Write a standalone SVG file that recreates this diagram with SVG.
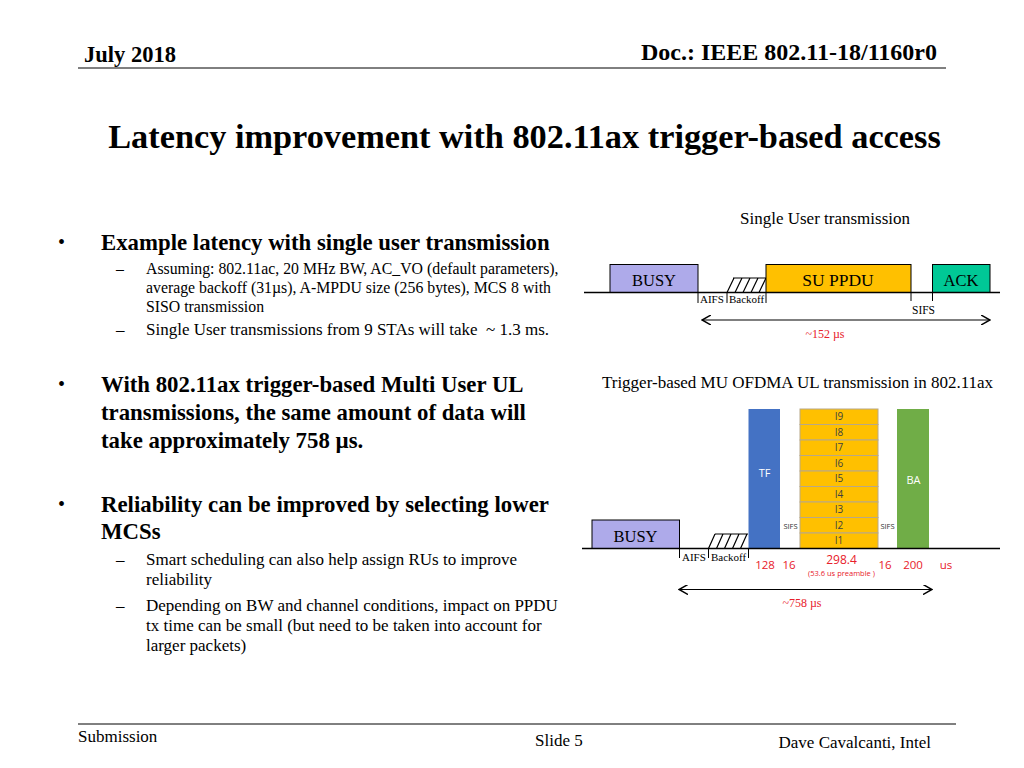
<svg xmlns="http://www.w3.org/2000/svg" width="1024" height="768" viewBox="0 0 1024 768">
<style>
.serif{font-family:"Liberation Serif","Times New Roman",serif;fill:#000}
.b{font-weight:bold}
.sans{font-family:"Open Sans","Liberation Sans",sans-serif}
.red{fill:#e8202a}
.ln{stroke:#000;stroke-width:1.5;fill:none}
.tk{stroke:#000;stroke-width:1;fill:none}
.h{stroke:#000;stroke-width:1.2;fill:none}
.row{fill:#ffc000;stroke:#b8a888;stroke-width:1}
.bt{font-size:22.8px}
.s1{font-size:15.8px}
.s2{font-size:17px}
</style>
<defs>
<marker id="ah" viewBox="0 0 10 10" refX="9" refY="5" markerWidth="10" markerHeight="10" markerUnits="userSpaceOnUse" orient="auto-start-reverse">
<path d="M0,0 L9,5 L0,10" fill="none" stroke="#000" stroke-width="1.5"/>
</marker>
</defs>
<rect width="1024" height="768" fill="#fff"/>

<g id="header">
<text class="serif b" x="84" y="62" font-size="22.5">July 2018</text>
<text class="serif b" x="937" y="60" font-size="24" text-anchor="end">Doc.: IEEE 802.11-18/1160r0</text>
<line x1="78" y1="68" x2="946" y2="68" stroke="#000" stroke-width="1"/>
</g>

<g id="title">
<text class="serif b" x="524.5" y="148" font-size="34.3" text-anchor="middle">Latency improvement with 802.11ax trigger-based access</text>
</g>

<g id="body">
<text class="serif" x="58" y="249" font-size="20">•</text>
<text class="serif b bt" x="101" y="250">Example latency with single user transmission</text>
<text class="serif s1" x="116" y="274">–</text>
<text class="serif s1" x="146" y="274">Assuming: 802.11ac, 20 MHz BW, AC_VO (default parameters),</text>
<text class="serif s1" x="146" y="293">average backoff (31µs), A-MPDU size (256 bytes), MCS 8 with</text>
<text class="serif s1" x="146" y="312">SISO transmission</text>
<text class="serif s2" x="116" y="335">–</text>
<text class="serif s2" x="146" y="335">Single User transmissions from 9 STAs will take&#160; ~ 1.3 ms.</text>

<text class="serif" x="58" y="391" font-size="20">•</text>
<text class="serif b bt" x="101" y="392">With 802.11ax trigger-based Multi User UL</text>
<text class="serif b bt" x="101" y="420">transmissions, the same amount of data will</text>
<text class="serif b bt" x="101" y="448">take approximately 758 µs.</text>

<text class="serif" x="58" y="511" font-size="20">•</text>
<text class="serif b bt" x="101" y="512">Reliability can be improved by selecting lower</text>
<text class="serif b bt" x="101" y="539">MCSs</text>
<text class="serif s2" x="116" y="565">–</text>
<text class="serif s2" x="146" y="565">Smart scheduling can also help assign RUs to improve</text>
<text class="serif s2" x="146" y="585">reliability</text>
<text class="serif s2" x="116" y="611">–</text>
<text class="serif s2" x="146" y="611">Depending on BW and channel conditions, impact on PPDU</text>
<text class="serif s2" x="146" y="631">tx time can be small (but need to be taken into account for</text>
<text class="serif s2" x="146" y="651">larger packets)</text>
</g>

<!-- Single user diagram -->
<g id="su-title"><text class="serif" x="825" y="224" font-size="17" text-anchor="middle">Single User transmission</text></g>
<g id="su-busy">
<rect x="610" y="264.5" width="88" height="28" fill="#aeaaea" stroke="#000" stroke-width="1"/>
<text class="serif" x="654" y="286" font-size="16.5" text-anchor="middle">BUSY</text>
</g>
<g id="su-backoff">
<path class="h" d="M733,278 H766 M727,292.5 L734,278 M735,292.5 L742,278 M743,292.5 L750,278 M751,292.5 L758,278 M759,292.5 L766,278"/>
</g>
<g id="su-ppdu">
<rect x="766" y="264.5" width="145" height="28" fill="#ffc000" stroke="#000" stroke-width="1"/>
<text class="serif" x="838" y="286" font-size="17.5" text-anchor="middle">SU PPDU</text>
</g>
<g id="su-ack">
<rect x="932.5" y="264.5" width="57.5" height="28" fill="#00c896" stroke="#000" stroke-width="1"/>
<text class="serif" x="961" y="286" font-size="16.5" text-anchor="middle">ACK</text>
</g>
<g id="su-labels">
<text class="serif" x="700" y="303" font-size="11">AIFS</text>
<text class="serif" x="729" y="303" font-size="11">Backoff</text>
<text class="serif" x="912" y="314" font-size="11.5">SIFS</text>
<text class="serif red" x="825" y="338" font-size="12" text-anchor="middle">~152 µs</text>
</g>

<!-- MU diagram -->
<g id="mu-title"><text class="serif" x="797.5" y="388" font-size="17" text-anchor="middle">Trigger-based MU OFDMA UL transmission in 802.11ax</text></g>
<g id="mu-busy">
<rect x="592" y="520" width="87.5" height="28.5" fill="#aeaaea" stroke="#000" stroke-width="1"/>
<text class="serif" x="635.5" y="542" font-size="16.5" text-anchor="middle">BUSY</text>
</g>
<g id="mu-backoff">
<path class="h" d="M715,534 H748 M708.5,548.5 L715,534 M716.5,548.5 L723,534 M724.5,548.5 L731,534 M732.5,548.5 L739,534 M740.5,548.5 L747,534"/>
</g>
<g id="mu-tf">
<rect x="748.5" y="409" width="31.5" height="139.5" fill="#4472c4"/>
<text class="sans" x="764.5" y="477" font-size="11" fill="#fff" text-anchor="middle">TF</text>
</g>
<g id="mu-ru">
<rect class="row" x="800" y="409" width="78" height="15.5"/>
<rect class="row" x="800" y="424.5" width="78" height="15.5"/>
<rect class="row" x="800" y="440" width="78" height="15.5"/>
<rect class="row" x="800" y="455.5" width="78" height="15.5"/>
<rect class="row" x="800" y="471" width="78" height="15.5"/>
<rect class="row" x="800" y="486.5" width="78" height="15.5"/>
<rect class="row" x="800" y="502" width="78" height="15.5"/>
<rect class="row" x="800" y="517.5" width="78" height="15.5"/>
<rect class="row" x="800" y="533" width="78" height="15.5"/>
<g class="sans" font-size="10" fill="#404040" text-anchor="middle">
<text x="839" y="420">I9</text>
<text x="839" y="436">I8</text>
<text x="839" y="451">I7</text>
<text x="839" y="467">I6</text>
<text x="839" y="482">I5</text>
<text x="839" y="498">I4</text>
<text x="839" y="513">I3</text>
<text x="839" y="529">I2</text>
<text x="839" y="544">I1</text>
</g>
</g>
<g id="mu-ba">
<rect x="897" y="409" width="32" height="139.5" fill="#70ad47"/>
<text class="sans" x="913.5" y="484" font-size="11" fill="#fff" text-anchor="middle">BA</text>
</g>
<g id="mu-labels">
<text class="sans" x="790.5" y="529" font-size="7.5" fill="#333" text-anchor="middle">SIFS</text>
<text class="sans" x="887.5" y="529" font-size="7.5" fill="#333" text-anchor="middle">SIFS</text>
<text class="serif" x="682" y="561" font-size="11">AIFS</text>
<text class="serif" x="711" y="561" font-size="11">Backoff</text>
<g class="sans red" font-size="11.5" text-anchor="middle">
<text x="765" y="569">128</text>
<text x="789" y="569">16</text>
<text x="841.5" y="564" font-size="12">298.4</text>
<text x="885" y="569">16</text>
<text x="913" y="569">200</text>
<text x="946" y="569">us</text>
</g>
<text class="sans red" x="841.5" y="576" font-size="7.5" text-anchor="middle">(53.6 us preamble )</text>
<text class="serif red" x="802" y="607" font-size="12" text-anchor="middle">~758 µs</text>
</g>

<g id="connectors">
<line class="ln" x1="584" y1="292.5" x2="1000" y2="292.5"/>
<path class="tk" d="M698,292 V303 M727,292 V303 M766,292 V303 M911,292 V301 M932.5,292 V301"/>
<line x1="702" y1="320" x2="990" y2="320" stroke="#000" stroke-width="1.2" marker-start="url(#ah)" marker-end="url(#ah)"/>
<line class="ln" x1="582" y1="548.5" x2="1000" y2="548.5"/>
<path class="tk" d="M679.5,548 V558 M708.5,548 V558 M748.5,548 V558"/>
<line x1="679" y1="589.5" x2="932" y2="589.5" stroke="#000" stroke-width="1.2" marker-start="url(#ah)" marker-end="url(#ah)"/>
</g>

<g id="footer">
<line x1="78" y1="724" x2="956" y2="724" stroke="#000" stroke-width="1"/>
<text class="serif" x="78" y="742" font-size="17">Submission</text>
<text class="serif" x="535" y="746" font-size="17">Slide 5</text>
<text class="serif" x="931" y="748" font-size="17" text-anchor="end">Dave Cavalcanti, Intel</text>
</g>
</svg>
